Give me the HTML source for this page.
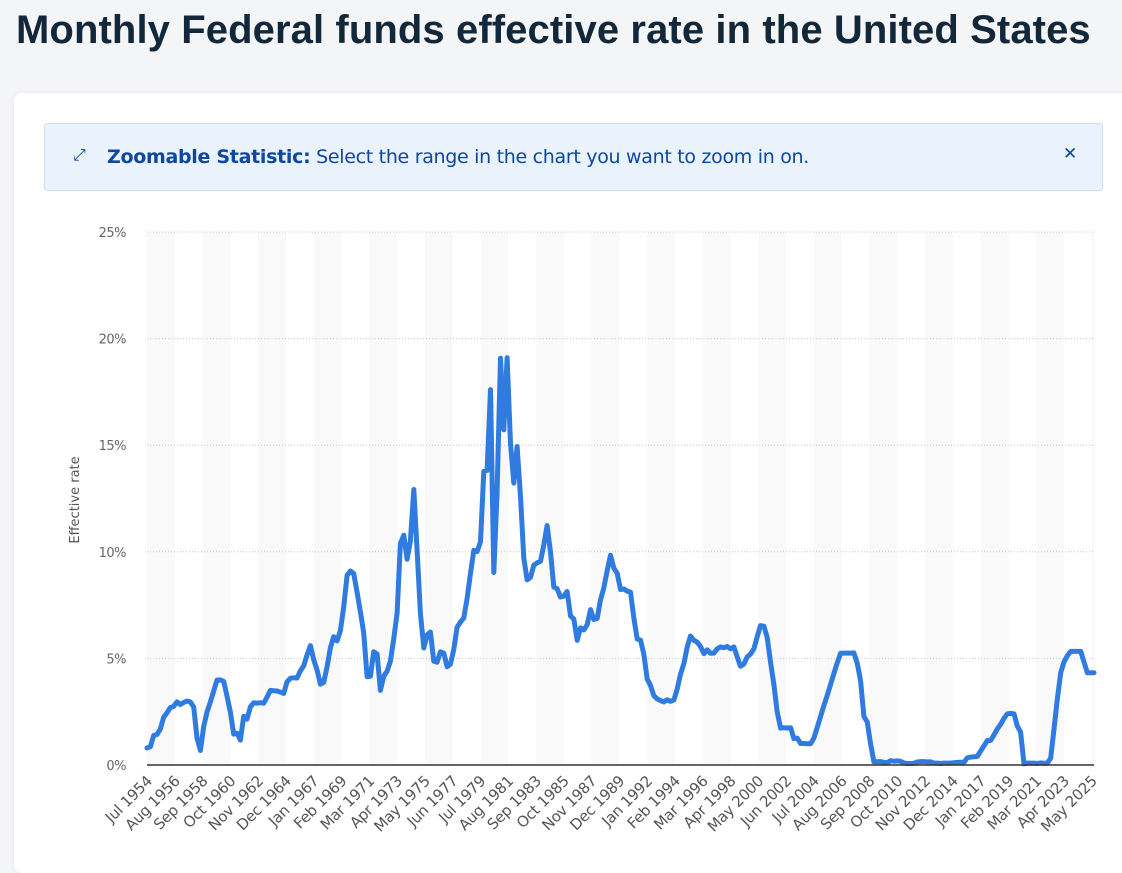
<!DOCTYPE html>
<html><head><meta charset="utf-8">
<style>
body{margin:0;width:1122px;height:859px;overflow:hidden;background:#f4f5f7;font-family:"Liberation Sans",sans-serif;}
#title{position:absolute;left:16px;top:8px;font-size:40px;font-weight:bold;color:#13273a;white-space:nowrap;letter-spacing:0.1px}
#card{position:absolute;left:14px;top:93px;width:1120px;height:780px;background:#fff;border-radius:8px;box-shadow:0 0 6px rgba(0,0,0,0.06)}
#banner{position:absolute;left:44px;top:123px;width:1057px;height:66px;background:#eaf2fc;border:1px solid #cfe0f5;border-radius:3px;color:#0d47a1;font-size:19px;font-family:"DejaVu Sans",sans-serif}
#banner .t{position:absolute;left:62px;top:22px;white-space:nowrap;letter-spacing:-0.3px}
#banner .x{position:absolute;left:1018px;top:20px;font-weight:bold;font-size:17px}
#banner .ic{position:absolute;left:28px;top:21px;font-size:16px}
</style></head><body>
<div id="title">Monthly Federal funds effective rate in the United States</div>
<div id="card"></div>
<div id="banner">
<span class="ic">⤢</span>
<span class="t"><b>Zoomable Statistic:</b> Select the range in the chart you want to zoom in on.</span>
<span class="x">✕</span>
</div>
<svg id="chart" width="1122" height="859" style="position:absolute;left:0;top:0"></svg>
<script>
const startYear=1954, startMonth=6; // Jul 1954
const yTicks=[0,5,10,15,20,25];
const xLabels=["Jul 1954","Aug 1956","Sep 1958","Oct 1960","Nov 1962","Dec 1964","Jan 1967","Feb 1969","Mar 1971","Apr 1973","May 1975","Jun 1977","Jul 1979","Aug 1981","Sep 1983","Oct 1985","Nov 1987","Dec 1989","Jan 1992","Feb 1994","Mar 1996","Apr 1998","May 2000","Jun 2002","Jul 2004","Aug 2006","Sep 2008","Oct 2010","Nov 2012","Dec 2014","Jan 2017","Feb 2019","Mar 2021","Apr 2023","May 2025"];
// quarterly values (Jan, Apr, Jul, Oct), first entry Jul 1954
const rates=[0.80,0.85,
1.39,1.43,1.68,2.24, 2.45,2.69,2.75,2.96, 2.84,2.93,3.00,2.96, 2.72,1.26,0.68,1.80,
2.48,2.96,3.47,3.98, 3.99,3.92,3.23,2.47, 1.45,1.49,1.17,2.29, 2.15,2.73,2.92,2.90,
2.92,2.90,3.18,3.50, 3.48,3.47,3.42,3.36, 3.90,4.07,4.09,4.08, 4.42,4.65,5.17,5.60,
4.94,4.45,3.79,3.88, 4.61,5.50,6.02,5.82, 6.30,7.41,8.90,9.10, 8.98,8.10,7.18,6.20,
4.14,4.16,5.31,5.20, 3.50,4.17,4.40,4.87, 5.94,7.12,10.40,10.78, 9.65,10.51,12.92,10.06,
7.13,5.49,6.10,6.24, 4.87,4.82,5.31,5.25, 4.61,4.73,5.42,6.47, 6.70,6.90,7.81,8.96,
10.07,10.01,10.47,13.77, 13.82,17.61,9.03,12.81, 19.08,15.72,19.10,15.08, 13.22,14.94,12.59,9.71,
8.68,8.80,9.37,9.48, 9.56,10.32,11.23,9.99, 8.35,8.27,7.88,7.92, 8.14,6.99,6.85,5.85,
6.43,6.33,6.58,7.29, 6.83,6.87,7.75,8.30, 9.12,9.84,9.24,8.99, 8.23,8.26,8.15,8.11,
6.91,5.91,5.86,5.21, 4.03,3.73,3.25,3.10, 3.02,2.96,3.06,2.99, 3.05,3.56,4.26,4.76,
5.53,6.05,5.85,5.76, 5.56,5.22,5.40,5.24, 5.25,5.45,5.54,5.50, 5.56,5.45,5.54,5.07,
4.63,4.74,5.07,5.20, 5.45,6.02,6.54,6.51, 5.98,4.80,3.77,2.49, 1.73,1.75,1.73,1.75,
1.24,1.26,1.01,1.01, 1.00,1.00,1.26,1.76, 2.28,2.79,3.26,3.78, 4.29,4.79,5.24,5.25,
5.25,5.25,5.26,4.76, 3.94,2.28,2.01,0.97, 0.15,0.15,0.16,0.12, 0.11,0.20,0.18,0.19,
0.17,0.10,0.07,0.07, 0.08,0.14,0.16,0.16, 0.14,0.15,0.09,0.09, 0.07,0.09,0.09,0.09,
0.11,0.12,0.13,0.12, 0.34,0.37,0.39,0.40, 0.65,0.90,1.15,1.15, 1.41,1.69,1.91,2.19,
2.40,2.42,2.40,1.83, 1.55,0.05,0.09,0.09, 0.09,0.07,0.10,0.08, 0.08,0.33,1.68,3.08,
4.33,4.83,5.12,5.33, 5.33,5.33,5.33,4.83, 4.33,4.33,4.33];
const NS="http://www.w3.org/2000/svg";
const svg=document.getElementById('chart');
const X0=147,X1=1094,Y0=765,Y1=232,TOTAL=852,YMAX=25;
const xs=m=>X0+m*(X1-X0)/TOTAL;
const ys=v=>Y0-v*(Y0-Y1)/YMAX;
function mk(t,a){const e=document.createElementNS(NS,t);for(const k in a)e.setAttribute(k,a[k]);svg.appendChild(e);return e;}
for(let i=0;i<xLabels.length;i+=2){
 const x=xs(i*25),w=Math.min(xs((i+1)*25),X1)-x;
 const b=mk('rect',{x:x,y:Y1,width:w,height:Y0-Y1,fill:'#f9f9f9'});
 
 
}
yTicks.forEach(t=>{
 if(t>0){const g=mk('line',{x1:X0,x2:X1,y1:ys(t),y2:ys(t),stroke:'#c8c8c8','stroke-dasharray':'1,2'});
 
 }
 const l=mk('text',{x:126,y:ys(t)+5,'text-anchor':'end','font-size':'13',fill:'#666','font-family':'DejaVu Sans, sans-serif','letter-spacing':'-0.5'});
 l.textContent=t+'%';
 
 
});
const yt=mk('text',{x:0,y:0,transform:'translate(79,500) rotate(-90)','text-anchor':'middle','font-size':'13',fill:'#555','font-family':'DejaVu Sans, sans-serif'});
yt.textContent='Effective rate';


xLabels.forEach((s,i)=>{
 const x=xs(i*25);
 const l=mk('text',{x:0,y:0,transform:`translate(${x+6},${Y0+17}) rotate(-45)`,'text-anchor':'end','font-size':'15',fill:'#555','font-family':'DejaVu Sans, sans-serif','letter-spacing':'-0.3'});
 l.textContent=s;
 
 
});
let d='';
rates.forEach((v,i)=>{const m=i===0?0:(i===1?3:6+(i-2)*3);d+=(i?'L':'M')+xs(m).toFixed(1)+','+ys(v).toFixed(1);});
const p=mk('path',{d:d,fill:'none',stroke:'#2f7be0','stroke-width':'5','stroke-linejoin':'round','stroke-linecap':'round'});


const ax=mk('line',{x1:X0,x2:X1,y1:Y0,y2:Y0,stroke:'#333','stroke-width':'1.5'});


</script>
</body></html>
